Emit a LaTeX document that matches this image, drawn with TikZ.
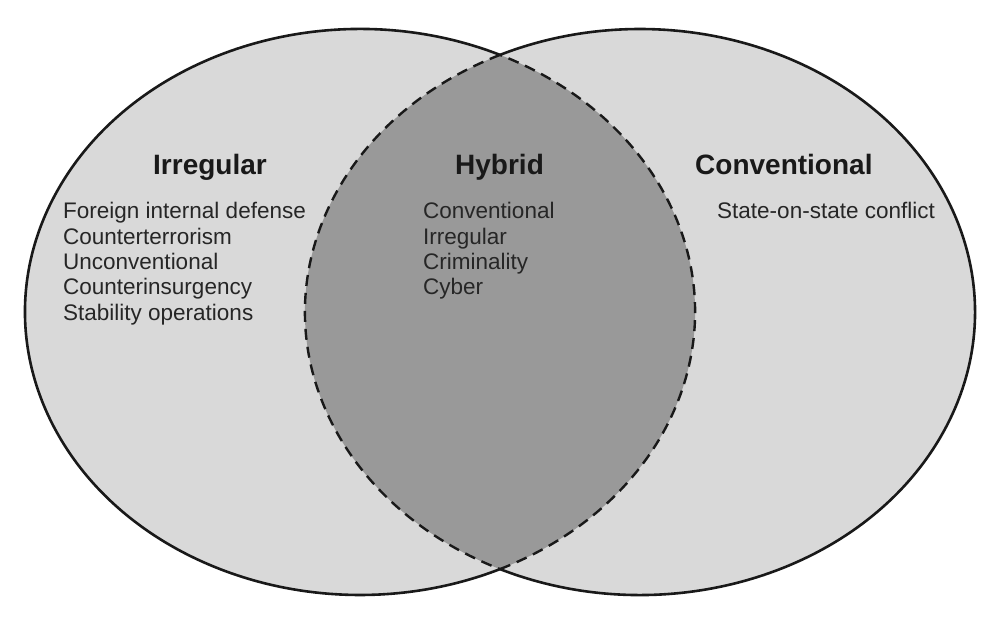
\documentclass[tikz,border=0pt]{standalone}
\usepackage{fontspec}
\setmainfont{Liberation Sans}
\begin{document}
\begin{tikzpicture}[x=1pt,y=1pt,
  outline/.style={line width=2.6pt,draw=black!90},
  lensline/.style={line width=2.4pt,draw=black!90,dash pattern=on 11pt off 7pt},
  title/.style={anchor=base west,inner sep=0pt,font=\fontsize{28}{30}\selectfont\bfseries,text=black!90},
  item/.style={anchor=base west,inner sep=0pt,font=\fontsize{22.5}{25}\selectfont,text=black!85}]
\definecolor{lightfill}{gray}{0.85}
\definecolor{darkfill}{gray}{0.6}
\useasboundingbox (0,0) rectangle (1000,626);
\fill[white] (0,0) rectangle (1000,626);
% intersection points
\coordinate (T) at (500,571.1);
\coordinate (B) at (500,56.9);
\coordinate (cl) at (360,314);
\coordinate (cr) at (640,314);
% fills
\fill[lightfill] (cl) ellipse [x radius=335pt, y radius=283pt];
\fill[lightfill] (cr) ellipse [x radius=335pt, y radius=283pt];
\fill[darkfill] (B) arc[start angle=-65.3, end angle=65.3, x radius=335pt, y radius=283pt]
  arc[start angle=114.7, end angle=245.3, x radius=335pt, y radius=283pt] -- cycle;
% outlines
\draw[outline] (T) arc[start angle=65.3, end angle=294.7, x radius=335pt, y radius=283pt];
\draw[outline] (B) arc[start angle=-114.7, end angle=114.7, x radius=335pt, y radius=283pt];
\draw[lensline] (B) arc[start angle=-65.3, end angle=65.3, x radius=335pt, y radius=283pt];
\draw[lensline] (T) arc[start angle=114.7, end angle=245.3, x radius=335pt, y radius=283pt];
% titles
\node[title] (tirr) at (153,451) {Irregular};
\node[title] (thyb) at (455,451) {Hybrid};
\node[title] (tcon) at (695,451) {Conventional};
% irregular items
\node[item] (i1) at (63,407) {Foreign internal defense};
\node[item] (i2) at (63,381.7) {Counterterrorism};
\node[item] (i3) at (63,356.4) {Unconventional};
\node[item] (i4) at (63,331.1) {Counterinsurgency};
\node[item] (i5) at (63,305.8) {Stability operations};
% hybrid items
\node[item] (h1) at (423,407) {Conventional};
\node[item] (h2) at (423,381.7) {Irregular};
\node[item] (h3) at (423,356.4) {Criminality};
\node[item] (h4) at (423,331.1) {Cyber};
% conventional items
\node[item] (c1) at (717,407) {State-on-state conflict};
\end{tikzpicture}
\end{document}
